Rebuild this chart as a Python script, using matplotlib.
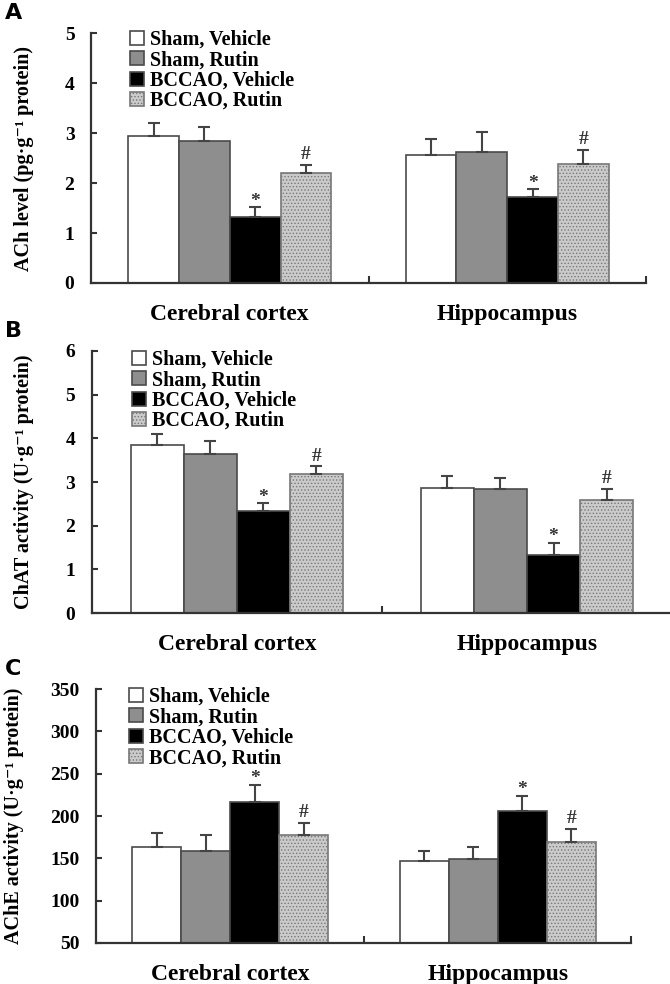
import matplotlib
matplotlib.use("Agg")
import matplotlib.pyplot as plt
import numpy as np

plt.rcParams['font.family'] = ['Liberation Serif', 'DejaVu Serif']
plt.rcParams['font.weight'] = 'bold'
plt.rcParams['axes.labelweight'] = 'bold'
plt.rcParams['hatch.linewidth'] = 0.6

# ---- data ----
regions = ['Cerebral cortex', 'Hippocampus']
groups = ['Sham, Vehicle', 'Sham, Rutin', 'BCCAO, Vehicle', 'BCCAO, Rutin']

ach_mean = [[2.95, 2.57], [2.84, 2.63], [1.33, 1.72], [2.20, 2.39]]
ach_err = [[0.25, 0.32], [0.28, 0.40], [0.19, 0.16], [0.16, 0.28]]
ach_marks = [['', ''], ['', ''], ['*', '*'], ['#', '#']]

chat_mean = [[3.85, 2.87], [3.65, 2.84], [2.34, 1.33], [3.19, 2.58]]
chat_err = [[0.24, 0.26], [0.29, 0.26], [0.18, 0.28], [0.17, 0.26]]
chat_marks = [['', ''], ['', ''], ['*', '*'], ['#', '#']]

ache_mean = [[163.7, 147.1], [159.0, 148.7], [216.2, 206.3], [177.1, 168.8]]
ache_err = [[16.6, 11.9], [19.0, 15.0], [20.9, 17.8], [15.0, 16.2]]
ache_marks = [['', ''], ['', ''], ['*', '*'], ['#', '#']]

# ---- styles ----
faces = ['white', '#8e8e8e', 'black', '#cbcbcb']
hatches = [None, None, None, '.....']
edge = '#4a4a4a'
barw = 0.183
mark_off = {'*': 1.0, '#': 4.0}   # baseline offset in points

fig = plt.figure(figsize=(6.7, 9.84), dpi=100)

def panel(rect, means, errs, marks, ylim, yticks, ylabel, letter, lcoord, leg_anchor):
    ax = fig.add_axes(rect)
    x = np.arange(len(regions))
    for i in range(len(groups)):
        xs = x + (i - 1.5) * barw
        m = np.array(means[i])
        e = np.array(errs[i])
        ax.bar(xs, m - ylim[0], bottom=ylim[0], width=barw, color=faces[i],
               edgecolor=edge if i != 3 else '#777777', linewidth=1.2,
               hatch=hatches[i], label=groups[i], zorder=2)
        ax.errorbar(xs, m, yerr=[np.zeros_like(e), e], fmt='none',
                    ecolor='#444444', elinewidth=1.5, capsize=4, capthick=1.5, zorder=3)
        for j in range(len(regions)):
            mk = marks[i][j]
            if mk:
                ax.annotate(mk, (xs[j], m[j] + e[j]), xytext=(0, mark_off[mk]),
                            textcoords='offset points', ha='center', va='baseline',
                            fontsize=14, color='#333333')
    ax.set_xlim(-0.5, 1.5)
    ax.set_ylim(ylim)
    ax.set_yticks(yticks)
    ax.set_xticks(x)
    ax.set_xticklabels(regions, fontsize=17)
    ax.set_xticks([0.5, 1.5], minor=True)
    ax.tick_params(axis='x', which='major', length=0, pad=15)
    ax.tick_params(axis='x', which='minor', direction='in', length=5, width=1.5, color='#333333')
    ax.tick_params(axis='y', direction='in', length=4, width=1.5, labelsize=14, pad=12, color='#333333')
    for s in ['top', 'right']:
        ax.spines[s].set_visible(False)
    for s in ['left', 'bottom']:
        ax.spines[s].set_linewidth(1.6)
        ax.spines[s].set_color('#333333')
    ax.set_ylabel(ylabel, fontsize=14.5)
    ax.yaxis.set_label_coords(lcoord, 0.5)
    ax.legend(loc='upper left', bbox_to_anchor=leg_anchor, frameon=False,
              fontsize=14.5, handlelength=0.7, handleheight=0.7,
              handletextpad=0.3, labelspacing=0.02, borderaxespad=0)
    fig.text(0.008, rect[1] + rect[3] + 0.02, letter, fontsize=16, weight='bold',
             family='DejaVu Sans', va='center', ha='left')
    return ax

panel([0.136, 0.7124, 0.828, 0.254], ach_mean, ach_err, ach_marks, (0, 5),
      np.arange(0, 6, 1), 'ACh level (pg·g⁻¹ protein)', 'A', -0.103, (0.055, 1.045))
panel([0.137, 0.377, 0.866, 0.2663], chat_mean, chat_err, chat_marks, (0, 6),
      np.arange(0, 7, 1), 'ChAT activity (U·g⁻¹ protein)', 'B', -0.10, (0.055, 1.035))
panel([0.144, 0.0417, 0.7985, 0.258], ache_mean, ache_err, ache_marks, (50, 350),
      np.arange(50, 351, 50), 'AChE activity (U·g⁻¹ protein)', 'C', -0.135, (0.045, 1.04))

plt.savefig('out.png', dpi=100)
